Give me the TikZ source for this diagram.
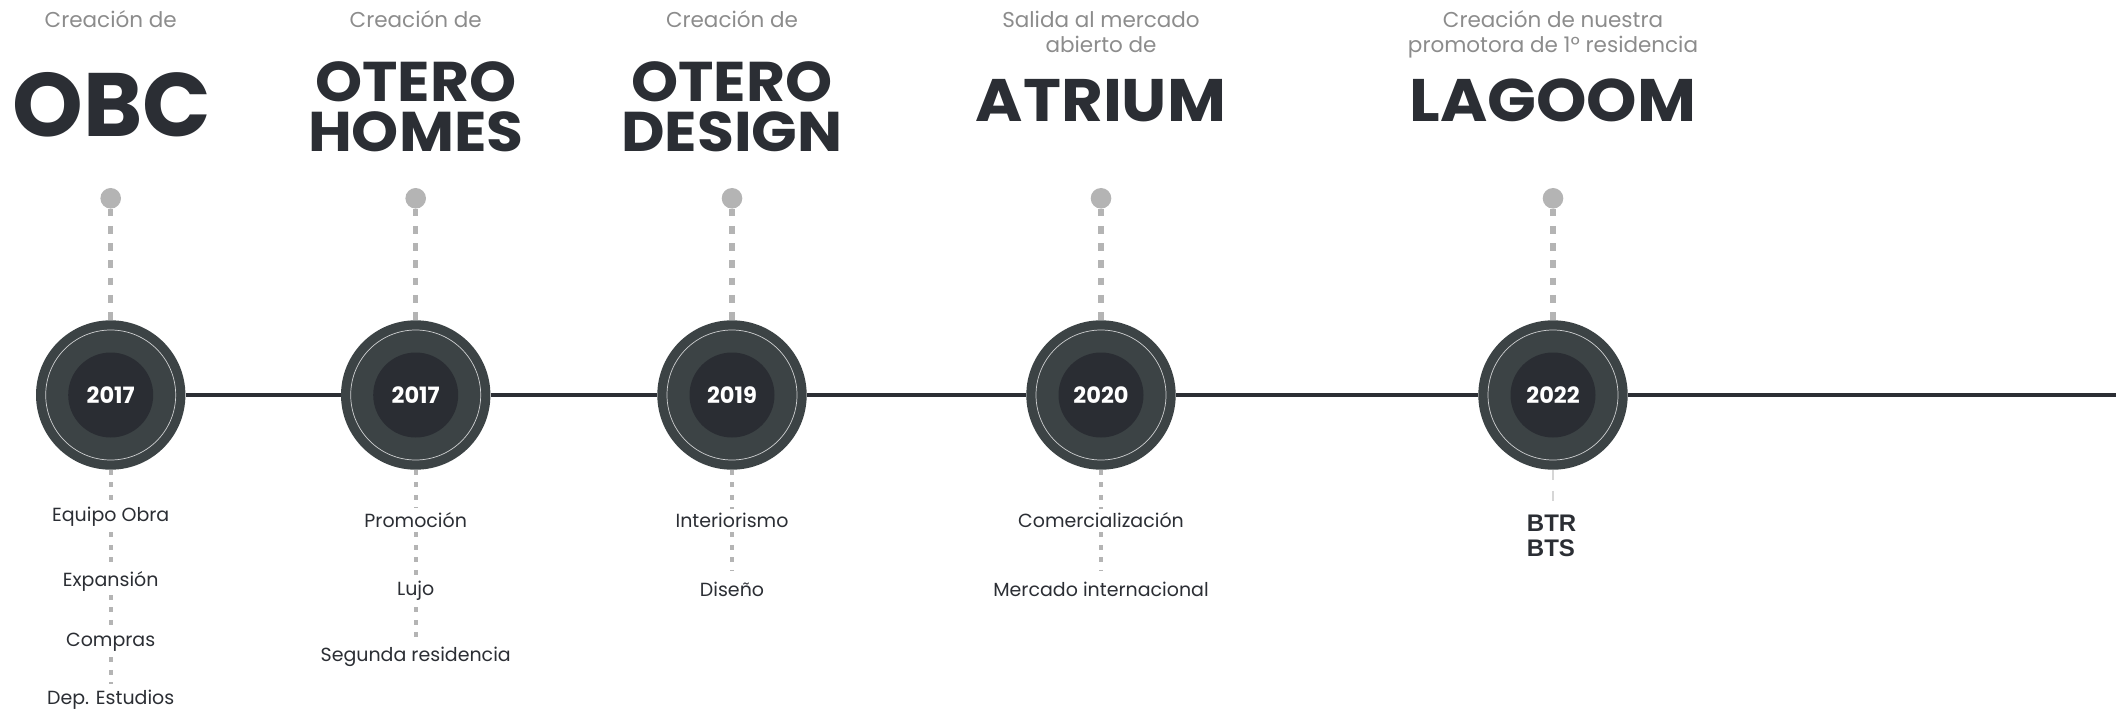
\documentclass[tikz,border=0pt]{standalone}
\usepackage{fontspec}
\setmainfont{Poppins}
\newfontfamily\titlefont{Poppins}[FakeStretch=1.07]
\newfontfamily\btfont{Liberation Sans}
\usetikzlibrary{positioning,backgrounds}
\definecolor{tlgray}{HTML}{8C8C8C}
\definecolor{tldark}{HTML}{2B2E34}
\definecolor{tlouter}{HTML}{3C4345}
\definecolor{tlinner}{HTML}{2A2D33}
\definecolor{tldash}{HTML}{B4B4B4}
\definecolor{tlfaint}{HTML}{D6D6D6}
\tikzstyle{timeline} = [line width=3.6pt, color=tldark]
\tikzstyle{yearcircle} = [circle, fill=tlouter, minimum size=149.4pt, inner sep=0pt]
\tikzstyle{yearcore} = [circle, fill=tlinner, minimum size=85pt, inner sep=0pt, text=white, font=\fontsize{22.5}{22.5}\selectfont\bfseries]
\tikzstyle{yearring} = [draw=white!75!tlouter, line width=0.7pt]
\tikzstyle{topdot} = [circle, fill=tldash, minimum size=20.6pt, inner sep=0pt]
\tikzstyle{updash} = [line width=5.3pt, color=tldash, dash pattern=on 7.7pt off 9.5pt]
\tikzstyle{lowdash} = [line width=4pt, color=tldash, dash pattern=on 5pt off 7.5pt]
\tikzstyle{faintdash} = [line width=2.6pt, color=tlfaint, dash pattern=on 10pt off 11pt]
\tikzstyle{headtext} = [anchor=base, inner sep=0pt, text=tlgray, font=\fontsize{21.5}{21.5}\selectfont]
\tikzstyle{bigname} = [anchor=base, inner sep=0pt, text height=40pt, text depth=0pt, text=tldark, font=\titlefont\fontsize{56}{56}\selectfont\bfseries]
\tikzstyle{hugename} = [anchor=base, inner sep=0pt, text height=63pt, text depth=0pt, text=tldark, font=\fontsize{90}{90}\selectfont\bfseries]
\tikzstyle{midname} = [anchor=base, inner sep=0pt, text height=42pt, text depth=0pt, text=tldark, font=\titlefont\fontsize{60}{60}\selectfont\bfseries]
\tikzstyle{areatext} = [anchor=base, fill=white, inner sep=4pt, text=tldark, font=\fontsize{19}{19}\selectfont]
\tikzstyle{bttext} = [anchor=base west, inner sep=0pt, text=tldark, font=\btfont\fontsize{24}{24}\selectfont\bfseries]

\begin{document}
\begin{tikzpicture}[x=1pt, y=-1pt]
\useasboundingbox (0,0) rectangle (2116,711);

% Years on the timeline
\node (c1) [yearcircle] at (110.7,395) {};
\node (c2) [yearcircle] at (415.7,395) {};
\node (c3) [yearcircle] at (732,395) {};
\node (c4) [yearcircle] at (1101,395) {};
\node (c5) [yearcircle] at (1553,395) {};
\coordinate (tlend) at (2116,395);

\draw[yearring] (c1.center) circle (65);
\draw[yearring] (c2.center) circle (65);
\draw[yearring] (c3.center) circle (65);
\draw[yearring] (c4.center) circle (65);
\draw[yearring] (c5.center) circle (65);

\node (y1) [yearcore] at (c1) {2017};
\node (y2) [yearcore] at (c2) {2017};
\node (y3) [yearcore] at (c3) {2019};
\node (y4) [yearcore] at (c4) {2020};
\node (y5) [yearcore] at (c5) {2022};

% Timeline
\draw[timeline] (c1) -- (c2);
\draw[timeline] (c2) -- (c3);
\draw[timeline] (c3) -- (c4);
\draw[timeline] (c4) -- (c5);
\draw[timeline] (c5) -- (tlend);

% Top markers
\node (d1) [topdot] at (110.7,198.3) {};
\node (d2) [topdot] at (415.7,198.3) {};
\node (d3) [topdot] at (732,198.3) {};
\node (d4) [topdot] at (1101,198.3) {};
\node (d5) [topdot] at (1553,198.3) {};

\draw[updash] (d1) -- (c1);
\draw[updash] (d2) -- (c2);
\draw[updash] (d3) -- (c3);
\draw[updash] (d4) -- (c4);
\draw[updash] (d5) -- (c5);

% Headings
\node (h1) [headtext] at (110.7,27.3) {Creación de};
\node (n1) [hugename] at (112,137) {OBC};

\node (h2) [headtext] at (415.7,27.3) {Creación de};
\node (n2a) [bigname] at (415.7,102) {OTERO};
\node (n2b) [bigname] at (415.7,152) {HOMES};

\node (h3) [headtext] at (732,27.3) {Creación de};
\node (n3a) [bigname] at (732,102) {OTERO};
\node (n3b) [bigname] at (732,152) {DESIGN};

\node (h4a) [headtext] at (1101,27.3) {Salida al mercado};
\node (h4b) [headtext] at (1101,52.5) {abierto de};
\node (n4) [midname] at (1101,122) {ATRIUM};

\node (h5a) [headtext] at (1553,27.3) {Creación de nuestra};
\node (h5b) [headtext] at (1553,52.5) {promotora de 1º residencia};
\node (n5) [midname] at (1553,122) {LAGOOM};

% Areas below each year
\node (a11) [areatext] at (110.7,521.7) {Equipo Obra};
\node (a12) [areatext] at (110.7,586) {Expansión};
\node (a13) [areatext] at (110.7,646) {Compras};
\node (a14) [areatext] at (110.7,704.3) {Dep. Estudios};
\coordinate (e1) at (110.7,684);

\node (a21) [areatext] at (415.7,527.3) {Promoción};
\node (a22) [areatext] at (415.7,595.7) {Lujo};
\node (a23) [areatext] at (415.7,661) {Segunda residencia};
\coordinate (e2) at (415.7,638);

\node (a31) [areatext] at (732,527.5) {Interiorismo};
\node (a32) [areatext] at (732,596) {Diseño};
\coordinate (e3) at (732,571);

\node (a41) [areatext] at (1101,527.5) {Comercialización};
\node (a42) [areatext] at (1101,596) {Mercado internacional};
\coordinate (e4) at (1101,571);

\node (a51) [bttext] at (1526.7,531) {BTR};
\node (a52) [bttext] at (1526.7,556.7) {BTS};
\coordinate (e5) at (1553,502);

\begin{scope}[on background layer]
\draw[lowdash] (c1) -- (e1);
\draw[lowdash] (c2) -- (e2);
\draw[lowdash] (c3) -- (e3);
\draw[lowdash] (c4) -- (e4);
\draw[faintdash] (c5) -- (e5);
\end{scope}
\end{tikzpicture}
\end{document}
